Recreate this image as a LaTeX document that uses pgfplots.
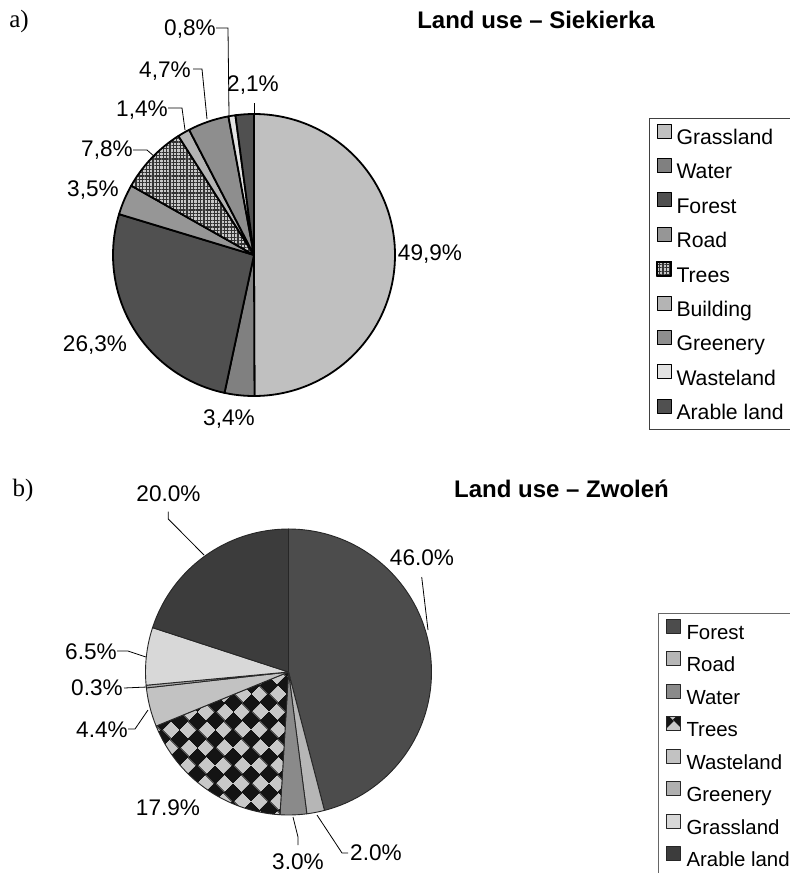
\documentclass[border=0pt]{standalone}
\usepackage{fontspec}
\setmainfont{Liberation Sans}
\newfontfamily\seriffont{Liberation Serif}
\usepackage{pgfplots}
\pgfplotsset{compat=1.18}
\usepackage{pgfplotstable}
\usetikzlibrary{patterns,patterns.meta}

\definecolor{cA0}{HTML}{C0C0C0}
\definecolor{cA1}{HTML}{808080}
\definecolor{cA2}{HTML}{505050}
\definecolor{cA3}{HTML}{969696}
\definecolor{cA4}{HTML}{C8C8C8}
\definecolor{cA5}{HTML}{B4B4B4}
\definecolor{cA6}{HTML}{8E8E8E}
\definecolor{cA7}{HTML}{E2E2E2}
\definecolor{cA8}{HTML}{505050}
\definecolor{cB0}{HTML}{4C4C4C}
\definecolor{cB1}{HTML}{B6B6B6}
\definecolor{cB2}{HTML}{8A8A8A}
\definecolor{cB3}{HTML}{C8C8C8}
\definecolor{cB4}{HTML}{C2C2C2}
\definecolor{cB5}{HTML}{B0B0B0}
\definecolor{cB6}{HTML}{D8D8D8}
\definecolor{cB7}{HTML}{3C3C3C}

\tikzdeclarepattern{
  name=diamondcheck,
  type=colored,
  bounding box={(0pt,0pt) and (12.7pt,12.7pt)},
  tile size={(12.7pt,12.7pt)},
  tile transformation={rotate=45},
  code={
    \fill[cB3] (0pt,0pt) rectangle (12.7pt,12.7pt);
    \fill[black!92] (-0.4pt,-0.4pt) rectangle (6.75pt,6.75pt);
    \fill[black!92] (5.95pt,5.95pt) rectangle (13.1pt,13.1pt);
  }
}

\tikzset{
  pa/.style={draw=black, line width=0.9pt, line join=round},
  pa0/.style={pa, fill=cA0},
  pa1/.style={pa, fill=cA1},
  pa2/.style={pa, fill=cA2},
  pa3/.style={pa, fill=cA3},
  pa4/.style={pa, preaction={fill=cA4}, preaction={pattern={Hatch[angle=0,distance=1.7pt,line width=0.65pt]}, pattern color=black!80}},
  pa5/.style={pa, fill=cA5},
  pa6/.style={pa, fill=cA6},
  pa7/.style={pa, fill=cA7},
  pa8/.style={pa, fill=cA8},
  pb/.style={draw=black!85, line width=0.45pt, line join=round},
  pb0/.style={pb, fill=cB0},
  pb1/.style={pb, fill=cB1},
  pb2/.style={pb, fill=cB2},
  pb3/.style={pb, preaction={pattern=diamondcheck}},
  pb4/.style={pb, fill=cB4},
  pb5/.style={pb, fill=cB5},
  pb6/.style={pb, fill=cB6},
  pb7/.style={pb, fill=cB7},
  lab/.style={font=\fontsize{11.3}{13}\selectfont, inner sep=0pt},
  leader/.style={draw=black, line width=0.4pt},
}

% Land use - Siekierka (%)
\pgfplotstableread{
name value style
Grassland 49.9 pa0
Water 3.4 pa1
Forest 26.3 pa2
Road 3.5 pa3
Trees 7.8 pa4
Building 1.4 pa5
Greenery 4.7 pa6
Wasteland 0.8 pa7
ArableLand 2.1 pa8
}\tabA

% Land use - Zwolen (%)
\pgfplotstableread{
name value style
Forest 46.0 pb0
Road 2.0 pb1
Water 3.0 pb2
Trees 17.9 pb3
Wasteland 4.4 pb4
Greenery 0.3 pb5
Grassland 6.5 pb6
ArableLand 20.0 pb7
}\tabB

% #1 table, #2 radius in axis units, #3 radius as length
\newcommand\pieslices[3]{%
  \pgfplotstablegetrowsof{#1}%
  \pgfmathtruncatemacro\pieLast{\pgfplotsretval-1}%
  \gdef\pieTotal{0}%
  \foreach \i in {0,...,\pieLast}{%
    \pgfplotstablegetelem{\i}{value}\of{#1}%
    \pgfmathsetmacro\pieTmp{\pieTotal+\pgfplotsretval}\xdef\pieTotal{\pieTmp}}%
  \gdef\pieCum{0}%
  \foreach \i in {0,...,\pieLast}{%
    \pgfplotstablegetelem{\i}{value}\of{#1}\let\pieVal\pgfplotsretval
    \pgfplotstablegetelem{\i}{style}\of{#1}\let\pieSty\pgfplotsretval
    \pgfmathsetmacro\pieSA{90-(\pieCum/\pieTotal)*360}%
    \pgfmathsetmacro\pieEA{90-((\pieCum+\pieVal)/\pieTotal)*360}%
    \expandafter\path\expandafter[\pieSty] (axis cs:0,0) -- (axis cs:{#2*cos(\pieSA)},{#2*sin(\pieSA)}) arc[start angle=\pieSA,end angle=\pieEA,radius=#3] -- cycle;
    \pgfmathsetmacro\pieTmp{\pieCum+\pieVal}\xdef\pieCum{\pieTmp}%
  }}

\pgfplotsset{
  piebase/.style={
    anchor=center, x=0.5pt, y=0.5pt,
    xmin=-150, xmax=150, ymin=-150, ymax=150,
    hide axis, clip=false,
    legend cell align=left,
    legend image code/.code={\draw[##1, line width=0.5pt] (0pt,0.3pt) rectangle (7pt,7.3pt);},
  },
}

\begin{document}
\begin{tikzpicture}
\useasboundingbox (0,0) rectangle (395pt,-436.5pt);
\fill[white] (0,0) rectangle (395pt,-436.5pt);
\clip (0,0) rectangle (395pt,-436.5pt);

\node[font=\seriffont\fontsize{12.5}{14}\selectfont, inner sep=0pt] at (9.5pt,-10.5pt) {a)};
\node[font=\bfseries\fontsize{12}{14}\selectfont, inner sep=0pt] at (268pt,-10pt) {Land use – Siekierka};
\node[font=\seriffont\fontsize{12.5}{14}\selectfont, inner sep=0pt] at (11.5pt,-245pt) {b)};
\node[font=\bfseries\fontsize{12}{14}\selectfont, inner sep=0pt] at (280.75pt,-244.5pt) {Land use – Zwoleń};

% ---------- a) ----------
\begin{axis}[piebase, at={(127pt,-127.5pt)},
  legend style={at={(1.8167,0.9567)}, anchor=north west, draw=black!75, line width=0.5pt,
    font=\fontsize{10.6}{12}\selectfont, inner xsep=3.5pt, inner ysep=2.6pt,
    row sep=4.65pt, column sep=2.5pt,
    nodes={inner sep=0pt, text height=7.8pt, text depth=2.2pt}},
]
\pgfplotsextra{\pieslices{\tabA}{141}{70.5pt}}
\addlegendimage{pa0}\addlegendentry{Grassland}
\addlegendimage{pa1}\addlegendentry{Water}
\addlegendimage{pa2}\addlegendentry{Forest}
\addlegendimage{pa3}\addlegendentry{Road}
\addlegendimage{pa4}\addlegendentry{Trees}
\addlegendimage{pa5}\addlegendentry{Building}
\addlegendimage{pa6}\addlegendentry{Greenery}
\addlegendimage{pa7}\addlegendentry{Wasteland}
\addlegendimage{pa8}\addlegendentry{Arable land}
\draw[leader] (axis cs:-121,105) -- (axis cs:-107,105) -- (axis cs:-99,98);
\draw[leader] (axis cs:-86,147) -- (axis cs:-72,147) -- (axis cs:-69,125);
\draw[leader] (axis cs:-61,186) -- (axis cs:-52,186) -- (axis cs:-47,136);
\draw[leader] (axis cs:-38,227) -- (axis cs:-26,227) -- (axis cs:-25,140);
\draw[leader] (axis cs:0,152) -- (axis cs:0,142);
\node[lab] at (axis cs:176,1) {49,9\%};
\node[lab] at (axis cs:-25,-164) {3,4\%};
\node[lab] at (axis cs:-159,-90) {26,3\%};
\node[lab] at (axis cs:-161,65) {3,5\%};
\node[lab] at (axis cs:-147,105) {7,8\%};
\node[lab] at (axis cs:-112,145) {1,4\%};
\node[lab] at (axis cs:-89,184) {4,7\%};
\node[lab] at (axis cs:-64,226) {0,8\%};
\node[lab] at (axis cs:-1,170) {2,1\%};
\end{axis}

% ---------- b) ----------
\begin{axis}[piebase, at={(144.25pt,-336pt)},
  legend style={at={(1.7317,0.6967)}, anchor=north west, draw=black!60, line width=0.5pt,
    font=\fontsize{10.2}{12}\selectfont, inner xsep=3.5pt, inner ysep=2.6pt,
    row sep=3.7pt, column sep=3pt,
    nodes={inner sep=0pt, text height=7.8pt, text depth=2.2pt}},
]
\pgfplotsextra{\pieslices{\tabB}{143}{71.5pt}}
\addlegendimage{pb0}\addlegendentry{Forest}
\addlegendimage{pb1}\addlegendentry{Road}
\addlegendimage{pb2}\addlegendentry{Water}
\addlegendimage{pb3}\addlegendentry{Trees}
\addlegendimage{pb4}\addlegendentry{Wasteland}
\addlegendimage{pb5}\addlegendentry{Greenery}
\addlegendimage{pb6}\addlegendentry{Grassland}
\addlegendimage{pb7}\addlegendentry{Arable land}
\draw[leader] (axis cs:-120.2,160.3) -- (axis cs:-120.2,153) -- (axis cs:-84.5,117);
\draw[leader] (axis cs:133.2,95) -- (axis cs:139.5,42);
\draw[leader] (axis cs:-171.5,21) -- (axis cs:-160.5,21) -- (axis cs:-142.5,15);
\draw[leader] (axis cs:-164.5,-16) -- (axis cs:-141.5,-15);
\draw[leader] (axis cs:-160.5,-57) -- (axis cs:-153.5,-57) -- (axis cs:-140.5,-38);
\draw[leader] (axis cs:9.5,-173) -- (axis cs:9.5,-165) -- (axis cs:4.5,-145);
\draw[leader] (axis cs:59.5,-181) -- (axis cs:53.5,-181) -- (axis cs:28.5,-143);
\node[lab] at (axis cs:-120,178) {20.0\%};
\node[lab] at (axis cs:133.5,114) {46.0\%};
\node[lab] at (axis cs:-197.5,20) {6.5\%};
\node[lab] at (axis cs:-191.5,-16) {0.3\%};
\node[lab] at (axis cs:-186.5,-58) {4.4\%};
\node[lab] at (axis cs:-120.5,-136) {17.9\%};
\node[lab] at (axis cs:9.5,-190) {3.0\%};
\node[lab] at (axis cs:87.5,-181) {2.0\%};
\end{axis}
\end{tikzpicture}
\end{document}
